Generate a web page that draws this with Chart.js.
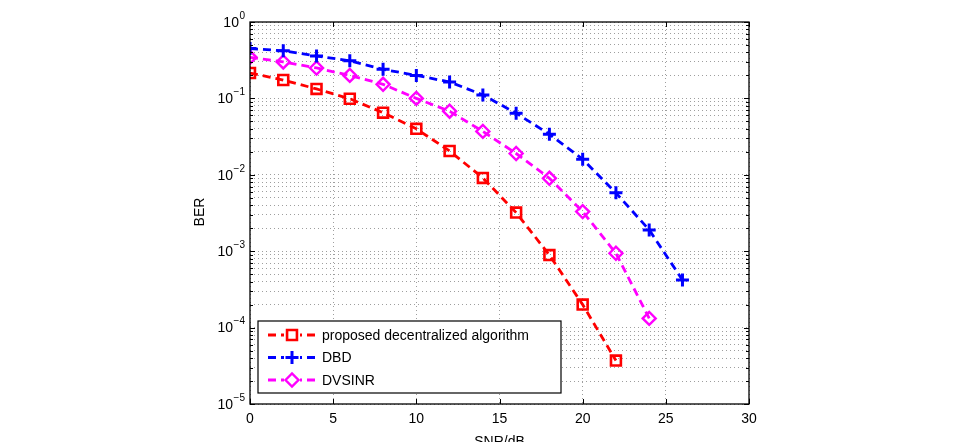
<!DOCTYPE html>
<html><head><meta charset="utf-8">
<script src="https://cdn.jsdelivr.net/npm/chart.js@4"></script>
<style>html,body{margin:0;padding:0;background:#fff}#wrap{width:957px;height:442px}</style>
</head><body><div id="wrap"><canvas id="c" width="957" height="442"></canvas></div>
<script>
// ---- data ----
const snrProposed = [0,2,4,6,8,10,12,14,16,18,20,22];
const berProposed = [0.215,0.174,0.133,0.099,0.065,0.040,0.0205,0.0091,0.0032,0.00089,0.00020,0.000037];
const snrDBD = [0,2,4,6,8,10,12,14,16,18,20,22,24,26];
const berDBD = [0.45,0.42,0.36,0.31,0.24,0.20,0.164,0.111,0.064,0.034,0.016,0.0058,0.0019,0.00042];
const snrDVSINR = [0,2,4,6,8,10,12,14,16,18,20,22,24];
const berDVSINR = [0.345,0.30,0.25,0.20,0.153,0.10,0.068,0.037,0.019,0.009,0.0033,0.00094,0.000132];
const seriesNames = ['proposed decentralized algorithm','DBD','DVSINR'];
const xTickValues = [0,5,10,15,20,25,30];
const yDecadeExponents = [0,-1,-2,-3,-4,-5];
const xTitle = 'SNR/dB';
const yTitle = 'BER';

const FONT = '"Liberation Sans", Arial, Helvetica, sans-serif';

function pts(xs, ys){ return xs.map((x,i)=>({x:x, y:ys[i]})); }

const yTickValues = [];
yDecadeExponents.slice().sort((a,b)=>a-b).forEach(e=>{
  for (let m=1;m<=9;m++){ if (e===0 && m>1) break; yTickValues.push(m*Math.pow(10,e)); }
});

const styles = [
  {color:'#ff0000', pointStyle:'rect', radius:7, pw:2.6},
  {color:'#0000ff', pointStyle:'cross', radius:6.5, pw:3},
  {color:'#ff00ff', pointStyle:'rectRot', radius:6.5, pw:2.4}
];
const seriesData = [pts(snrProposed,berProposed), pts(snrDBD,berDBD), pts(snrDVSINR,berDVSINR)];

const datasets = seriesData.map((d,i)=>({
  label: seriesNames[i],
  data: d,
  borderColor: styles[i].color,
  backgroundColor: 'rgba(0,0,0,0)',
  borderWidth: 2.8,
  borderDash: [8,5],
  pointStyle: styles[i].pointStyle,
  pointRadius: styles[i].radius,
  pointBorderWidth: styles[i].pw,
  pointBackgroundColor: 'rgba(0,0,0,0)',
  pointBorderColor: styles[i].color,
  tension: 0,
  fill: false
}));

const overlay = {
  id: 'overlay',
  afterDraw(chart){
    const ctx = chart.ctx;
    const a = chart.chartArea;
    const xs = chart.scales.x, ys = chart.scales.y;
    ctx.save();
    // frame
    ctx.strokeStyle = '#000';
    ctx.lineWidth = 1.3;
    ctx.setLineDash([]);
    ctx.strokeRect(a.left, a.top, a.right-a.left, a.bottom-a.top);
    // ticks (inward)
    ctx.lineWidth = 1;
    ctx.beginPath();
    xTickValues.forEach(v=>{
      const px = Math.round(xs.getPixelForValue(v))+0.5;
      ctx.moveTo(px, a.bottom); ctx.lineTo(px, a.bottom-5);
      ctx.moveTo(px, a.top); ctx.lineTo(px, a.top+5);
    });
    yTickValues.forEach(v=>{
      const py = Math.round(ys.getPixelForValue(v))+0.5;
      const major = Math.abs(Math.log10(v) - Math.round(Math.log10(v))) < 1e-9;
      const L = major ? 5 : 3;
      ctx.moveTo(a.left, py); ctx.lineTo(a.left+L, py);
      ctx.moveTo(a.right, py); ctx.lineTo(a.right-L, py);
    });
    ctx.stroke();
    // x tick labels
    ctx.fillStyle = '#000';
    ctx.font = '14px ' + FONT;
    ctx.textAlign = 'center';
    ctx.textBaseline = 'middle';
    xTickValues.forEach(v=>{
      ctx.fillText(String(v), xs.getPixelForValue(v), a.bottom + 15);
    });
    // y tick labels 10^e
    yDecadeExponents.forEach(e=>{
      const py = ys.getPixelForValue(Math.pow(10,e));
      const sup = e<0 ? '\u2212' + Math.abs(e) : String(e);
      ctx.font = '10px ' + FONT;
      const sw = ctx.measureText(sup).width;
      ctx.textAlign = 'left';
      ctx.textBaseline = 'middle';
      const supX = a.left - 5 - sw;
      ctx.fillText(sup, supX, py - 6);
      ctx.font = '14px ' + FONT;
      ctx.textAlign = 'right';
      ctx.fillText('10', supX - 0.5, py + 1);
    });
    // axis titles
    ctx.font = '14px ' + FONT;
    ctx.textAlign = 'center';
    ctx.textBaseline = 'middle';
    ctx.fillText(xTitle, (a.left+a.right)/2, a.bottom + 38);
    ctx.save();
    ctx.translate(a.left - 50, (a.top+a.bottom)/2 - 1);
    ctx.rotate(-Math.PI/2);
    ctx.fillText(yTitle, 0, 0);
    ctx.restore();
    // legend
    const bx = a.left + 8, by = a.bottom - 83, bw = 303, bh = 72;
    ctx.fillStyle = '#fff';
    ctx.fillRect(bx, by, bw, bh);
    ctx.strokeStyle = '#000';
    ctx.lineWidth = 1.2;
    ctx.strokeRect(bx, by, bw, bh);
    chart.data.datasets.forEach((ds,i)=>{
      const cy = by + 14 + i*22.5;
      ctx.strokeStyle = ds.borderColor;
      ctx.lineWidth = 2.8;
      ctx.setLineDash([8,5]);
      ctx.lineDashOffset = 0;
      ctx.beginPath();
      ctx.moveTo(bx+10, cy); ctx.lineTo(bx+57, cy);
      ctx.stroke();
      ctx.setLineDash([]);
      ctx.fillStyle = '#fff';
      ctx.fillRect(bx+26, cy-7, 16, 14);
      ctx.strokeStyle = ds.pointBorderColor;
      ctx.fillStyle = 'rgba(0,0,0,0)';
      ctx.lineWidth = ds.pointBorderWidth;
      Chart.helpers.drawPoint(ctx, {pointStyle: ds.pointStyle, radius: ds.pointRadius, rotation: 0, borderWidth: ds.pointBorderWidth}, bx+34, cy);
      ctx.fillStyle = '#000';
      ctx.font = '14px ' + FONT;
      ctx.textAlign = 'left';
      ctx.textBaseline = 'middle';
      ctx.fillText(ds.label, bx+64, cy+1);
    });
    ctx.restore();
  }
};

new Chart(document.getElementById('c'), {
  type: 'line',
  data: { datasets: datasets },
  options: {
    responsive: false,
    devicePixelRatio: 1,
    animation: false,
    layout: { padding: { left: 250, right: 208, top: 22, bottom: 38 } },
    plugins: { legend: { display: false }, tooltip: { enabled: false } },
    scales: {
      x: {
        type: 'linear', min: 0, max: 30,
        afterBuildTicks: s => { s.ticks = xTickValues.map(v=>({value:v})); },
        ticks: { display: false },
        grid: { color: 'rgba(0,0,0,0.38)', lineWidth: 1, drawTicks: false },
        border: { display: false, dash: [1,3] },
        title: { display: false }
      },
      y: {
        type: 'logarithmic', min: 1e-5, max: 1,
        afterBuildTicks: s => { s.ticks = yTickValues.map(v=>({value:v})); },
        ticks: { display: false },
        grid: { color: 'rgba(0,0,0,0.38)', lineWidth: 1, drawTicks: false },
        border: { display: false, dash: [1,3] },
        title: { display: false }
      }
    }
  },
  plugins: [overlay]
});
</script>
</body></html>
